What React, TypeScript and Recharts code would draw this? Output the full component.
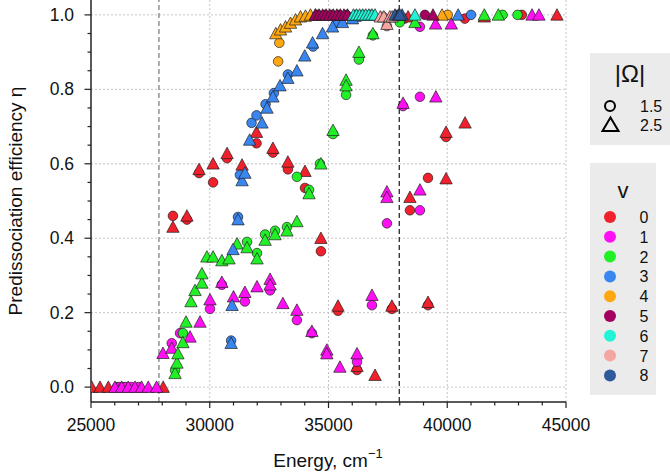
import React from "react";
import { ScatterChart, Scatter, XAxis, YAxis, ReferenceLine } from "recharts";

type Pt = [number, number];

// [energy (cm-1), predissociation efficiency] for each vibrational level v,
// split by |Omega| = 1.5 (circles) and |Omega| = 2.5 (triangles)
const v0Circles: Pt[] = [
  [28450, 0.46], [29040, 0.45], [29550, 0.575], [30140, 0.55], [30730, 0.615],
  [31970, 0.655], [32660, 0.63], [33290, 0.585], [34010, 0.535], [34680, 0.365],
  [35400, 0.205], [36200, 0.046], [37670, 0.21], [38430, 0.475], [39190, 0.562],
  [39190, 0.22], [39950, 0.672], [38200, 0.99], [40740, 0.99], [43140, 1.0],
];
const v0Triangles: Pt[] = [
  [25030, 0], [25380, 0], [25730, 0], [28040, 0],
  [28450, 0.43], [29040, 0.46], [29550, 0.585], [30140, 0.6], [30730, 0.628],
  [31360, 0.597], [31970, 0.685], [32660, 0.642], [33290, 0.605], [34010, 0.58],
  [34680, 0.4], [35400, 0.218], [36200, 0.056], [36960, 0.032], [37670, 0.218],
  [38430, 0.51], [39190, 0.228], [39950, 0.56], [39950, 0.685], [40750, 0.71],
  [38350, 0.995], [41560, 0.995], [44620, 1.0],
];

const v1Circles: Pt[] = [
  [26100, 0], [26200, 0], [26350, 0], [26450, 0], [26700, 0], [27000, 0],
  [28400, 0.118], [28750, 0.145], [30010, 0.21], [30510, 0.275], [31480, 0.23],
  [32540, 0.26], [33670, 0.18], [34300, 0.145], [36200, 0.068], [36830, 0.22],
  [37460, 0.44], [38850, 0.475], [38140, 0.755], [38850, 0.78], [38850, 0.968],
];
const v1Triangles: Pt[] = [
  [26010, 0], [26290, 0], [26570, 0], [26850, 0], [27130, 0], [27410, 0], [27760, 0],
  [28030, 0.091], [28400, 0.105], [29170, 0.135], [29590, 0.175], [30010, 0.235],
  [30510, 0.282], [31000, 0.243], [31480, 0.255], [31990, 0.27], [32540, 0.29],
  [32540, 0.275], [33080, 0.225], [33670, 0.207], [34300, 0.15], [34930, 0.1],
  [34930, 0.09], [35480, 0.054], [36200, 0.09], [36830, 0.247], [37460, 0.525],
  [37460, 0.51], [38850, 0.53], [38140, 0.763], [39520, 0.78], [39510, 0.976],
  [40170, 0.976], [43570, 1.0], [43860, 1.0],
];

const v2Circles: Pt[] = [
  [28540, 0.045], [28870, 0.145], [31570, 0.39], [31990, 0.36], [32330, 0.41],
  [32750, 0.42], [33250, 0.43], [33670, 0.565], [34180, 0.53], [34640, 0.6],
  [35190, 0.68], [35740, 0.785], [36280, 0.88], [36870, 0.945], [38000, 0.98],
  [42330, 1.0], [42960, 1.0],
];
const v2Triangles: Pt[] = [
  [28540, 0.037], [28620, 0.065], [28660, 0.09], [28870, 0.12], [29000, 0.175],
  [29210, 0.23], [29380, 0.26], [29670, 0.28], [29670, 0.305], [29880, 0.35],
  [30140, 0.35], [30510, 0.34], [30810, 0.345], [31150, 0.385], [31570, 0.375],
  [31990, 0.345], [32330, 0.395], [32750, 0.41], [33250, 0.42], [33670, 0.445],
  [34180, 0.52], [34680, 0.6], [35190, 0.69], [35740, 0.825], [35740, 0.81],
  [36280, 0.9], [36870, 0.95], [38640, 0.98], [41560, 1.0], [42150, 1.0],
];

const v3Circles: Pt[] = [
  [30900, 0.125], [31190, 0.457], [31270, 0.57], [31760, 0.71], [31970, 0.73],
  [32350, 0.76], [32700, 0.79], [33290, 0.84], [34350, 0.915], [35400, 0.98],
  [36300, 0.995], [36800, 1.0], [41000, 1.0],
];
const v3Triangles: Pt[] = [
  [30900, 0.118], [30940, 0.22], [30980, 0.37], [31190, 0.45], [31360, 0.555],
  [31480, 0.575], [31680, 0.664], [32200, 0.71], [32410, 0.75], [32660, 0.78],
  [32960, 0.81], [33290, 0.83], [33670, 0.85], [34000, 0.89], [34330, 0.925],
  [34750, 0.95], [35170, 0.968], [35590, 0.98], [36010, 0.99], [40460, 1.0],
];

const v4Circles: Pt[] = [[32880, 0.875], [32930, 0.925], [40020, 1.0]];
const v4Triangles: Pt[] = [
  [32780, 0.95], [32980, 0.96], [33190, 0.968], [33400, 0.978], [33610, 0.987],
  [33820, 0.995], [34030, 0.997], [34240, 1.0], [34450, 1.0], [39780, 1.0],
];

const v5Circles: Pt[] = [
  [34550, 1.0], [34850, 1.0], [35150, 1.0], [35450, 1.0], [35750, 1.0], [39060, 1.0],
];
const v5Triangles: Pt[] = [
  [34450, 1.0], [34600, 1.0], [34750, 1.0], [34900, 1.0], [35050, 1.0], [35200, 1.0],
  [35350, 1.0], [35500, 1.0], [35650, 1.0], [35800, 1.0], [39400, 1.0],
];

const v6Circles: Pt[] = [[36150, 1.0], [36450, 1.0], [36750, 1.0]];
const v6Triangles: Pt[] = [
  [36050, 1.0], [36180, 1.0], [36310, 1.0], [36440, 1.0], [36570, 1.0],
  [36700, 1.0], [36830, 1.0], [36960, 1.0], [38640, 1.0],
];

const v7Circles: Pt[] = [[37300, 0.995], [37460, 0.97]];
const v7Triangles: Pt[] = [
  [37180, 0.995], [37330, 0.995], [37460, 0.975], [37580, 0.995], [37680, 0.995],
];

const v8Circles: Pt[] = [[37900, 1.0]];
const v8Triangles: Pt[] = [[37800, 1.0], [37950, 1.0], [38100, 1.0], [38000, 1.0]];

const levelNames = ["0", "1", "2", "3", "4", "5", "6", "7", "8"];
const levelColors = [
  "#f0202c", "#ff10f4", "#22f026", "#3a86f0", "#ffa812",
  "#a3005f", "#22f5d6", "#f5a6a2", "#2f5a9c",
];
const omegaLabels = ["1.5", "2.5"];

const xMajorTicks = [25000, 30000, 35000, 40000, 45000];
const xTicks = [
  25000, 26000, 27000, 28000, 29000, 30000, 31000, 32000, 33000, 34000, 35000,
  36000, 37000, 38000, 39000, 40000, 41000, 42000, 43000, 44000, 45000,
];
const yMajorTicks = [0, 0.2, 0.4, 0.6, 0.8, 1.0];
const yTicks = [
  0, 0.05, 0.1, 0.15, 0.2, 0.25, 0.3, 0.35, 0.4, 0.45, 0.5,
  0.55, 0.6, 0.65, 0.7, 0.75, 0.8, 0.85, 0.9, 0.95, 1.0,
];
const thresholds = [27860, 37980];

const circleSeries = [
  v0Circles, v1Circles, v2Circles, v3Circles, v4Circles,
  v5Circles, v6Circles, v7Circles, v8Circles,
];
const triangleSeries = [
  v0Triangles, v1Triangles, v2Triangles, v3Triangles, v4Triangles,
  v5Triangles, v6Triangles, v7Triangles, v8Triangles,
];

const FONT = "'Liberation Sans', Arial, Helvetica, sans-serif";
const EDGE = "#1c1c1c";

const toRows = (pts: Pt[]) => pts.map(([x, y]) => ({ x, y }));

const isMajor = (v: number, majors: number[]) =>
  majors.some((m) => Math.abs(m - v) < 1e-6);

const XTick = (props: any) => {
  const { x, y, payload } = props;
  const major = isMajor(payload.value, xMajorTicks);
  return (
    <g>
      <line x1={x} x2={x} y1={y} y2={y + (major ? 6 : 3.5)} stroke="#222" strokeWidth={1.2} />
      {major && (
        <text x={x} y={y + 29} textAnchor="middle" fontSize={17.5} fontFamily={FONT} fill="#111">
          {payload.value}
        </text>
      )}
    </g>
  );
};

const YTick = (props: any) => {
  const { x, y, payload } = props;
  const major = isMajor(payload.value, yMajorTicks);
  return (
    <g>
      <line x1={x - (major ? 6.5 : 3.5)} x2={x} y1={y} y2={y} stroke="#222" strokeWidth={1.2} />
      {major && (
        <text x={x - 17} y={y + 6} textAnchor="end" fontSize={17.5} fontFamily={FONT} fill="#111">
          {payload.value.toFixed(1)}
        </text>
      )}
    </g>
  );
};

const circleShape = (color: string) => (p: any) => (
  <circle cx={p.cx} cy={p.cy} r={4.8} fill={color} stroke={EDGE} strokeWidth={0.8} strokeOpacity={0.85} />
);

const triangleShape = (color: string) => (p: any) => {
  const s = 6.2;
  return (
    <path
      d={`M${p.cx},${p.cy - s} L${p.cx + s},${p.cy + s * 0.85} L${p.cx - s},${p.cy + s * 0.85} Z`}
      fill={color}
      stroke={EDGE}
      strokeWidth={0.8}
      strokeOpacity={0.85}
      strokeLinejoin="miter"
    />
  );
};

const Legends = () => (
  <svg
    width={670}
    height={472}
    style={{ position: "absolute", left: 0, top: 0, pointerEvents: "none" }}
    fontFamily={FONT}
  >
    <text x={328} y={467} textAnchor="middle" fontSize={19} fill="#111">
      Energy, cm
      <tspan dy={-9} fontSize={13}>−1</tspan>
    </text>
    <text
      transform="rotate(-90)"
      x={-201}
      y={22}
      textAnchor="middle"
      fontSize={19}
      fill="#111"
    >
      Predissociation efficiency η
    </text>

    <rect x={590} y={53} width={80} height={92} fill="#ebebeb" />
    <text x={630} y={82} textAnchor="middle" fontSize={24} fill="#111">
      |Ω|
    </text>
    <circle cx={610} cy={106} r={5} fill="none" stroke="#000" strokeWidth={2} />
    <path d="M610.5,117.5 L618.5,131 L602.5,131 Z" fill="none" stroke="#000" strokeWidth={2} />
    {omegaLabels.map((l, i) => (
      <text key={l} x={640} y={112 + i * 19} fontSize={16} fill="#111">
        {l}
      </text>
    ))}

    <rect x={590} y={163} width={66} height={232} fill="#ebebeb" />
    <text x={623} y={198} textAnchor="middle" fontSize={22} fill="#111">
      v
    </text>
    {levelNames.map((name, i) => (
      <g key={name}>
        <circle cx={610} cy={217 + i * 19.8} r={6} fill={levelColors[i]} />
        <text x={644} y={223 + i * 19.8} textAnchor="middle" fontSize={16} fill="#111">
          {name}
        </text>
      </g>
    ))}
  </svg>
);

const App = () => {
  return (
    <div style={{ position: "relative", width: 670, height: 472, background: "#fff" }}>
      <style>{"body{margin:0}"}</style>
      <ScatterChart
        width={670}
        height={472}
        margin={{ top: 0, right: 104, bottom: 0, left: 0 }}
      >
        <XAxis
          type="number"
          dataKey="x"
          domain={[25000, 45000]}
          ticks={xTicks}
          interval={0}
          allowDataOverflow
          height={70}
          tickSize={0}
          tickMargin={0}
          tick={XTick}
          axisLine={{ stroke: "#222", strokeWidth: 1.5 }}
        />
        <YAxis
          type="number"
          dataKey="y"
          domain={[-0.04, 1.04]}
          ticks={yTicks}
          interval={0}
          allowDataOverflow
          width={91}
          tickSize={0}
          tickMargin={0}
          tick={YTick}
          axisLine={{ stroke: "#222", strokeWidth: 1.5 }}
        />
        {xMajorTicks.slice(1).map((v) => (
          <ReferenceLine key={`gx${v}`} x={v} stroke="#c4c4c4" strokeDasharray="2 2" />
        ))}
        {yMajorTicks.map((v) => (
          <ReferenceLine key={`gy${v}`} y={v} stroke="#c4c4c4" strokeDasharray="2 2" />
        ))}
        <ReferenceLine x={thresholds[0]} stroke="#808080" strokeWidth={1.3} strokeDasharray="5 3" />
        <ReferenceLine x={thresholds[1]} stroke="#2a2a2a" strokeWidth={1.3} strokeDasharray="5 3" />
        {levelNames.map((name, i) => [
          <Scatter
            key={`c${name}`}
            data={toRows(circleSeries[i])}
            shape={circleShape(levelColors[i])}
            isAnimationActive={false}
          />,
          <Scatter
            key={`t${name}`}
            data={toRows(triangleSeries[i])}
            shape={triangleShape(levelColors[i])}
            isAnimationActive={false}
          />,
        ])}
      </ScatterChart>
      <Legends />
    </div>
  );
};

export default App;
